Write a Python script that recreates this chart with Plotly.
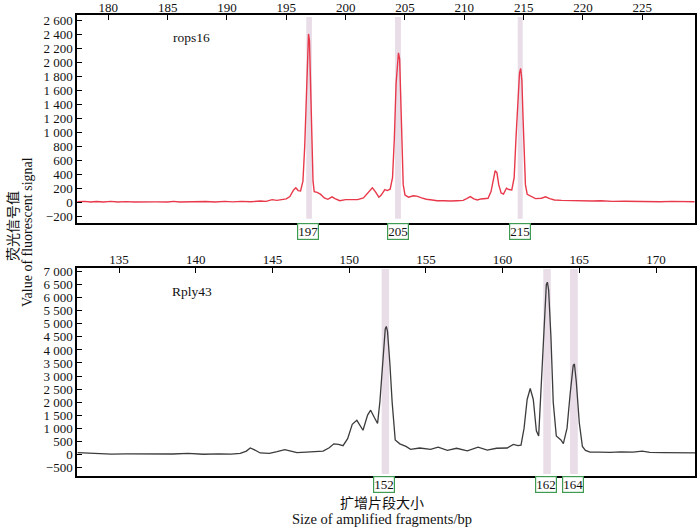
import plotly.graph_objects as go

# ---------------- data ----------------
rops_x = [177.4, 178.0, 178.5, 179.0, 179.6, 180.2, 180.8, 181.5, 182.2, 183.0, 184.0, 185.0, 185.5,
          186.0, 186.7, 187.5, 188.2, 189.0, 189.8, 190.5, 191.2, 192.0, 192.8, 193.3, 193.8, 194.2,
          194.6, 195.0, 195.3, 195.6, 195.8, 196.0, 196.2, 196.4, 196.55, 196.7, 196.8, 196.87,
          196.95, 197.05, 197.15, 197.25, 197.35, 197.6, 197.9, 198.2, 198.5, 198.85, 199.1, 199.5,
          200.0, 200.5, 201.0, 201.5, 201.9, 202.25, 202.5, 202.8, 203.0, 203.3, 203.5, 203.75,
          203.95, 204.1, 204.25, 204.37, 204.45, 204.55, 204.65, 204.75, 204.85, 205.0, 205.3,
          205.7, 206.0, 206.4, 206.8, 207.3, 207.7, 208.3, 208.8, 209.4, 209.9, 210.2, 210.5,
          210.8, 211.1, 211.4, 211.7, 212.0, 212.25, 212.45, 212.6, 212.75, 212.9, 213.1, 213.3,
          213.55, 213.75, 214.0, 214.2, 214.35, 214.5, 214.65, 214.75, 214.85, 214.95, 215.05,
          215.15, 215.3, 215.6, 216.0, 216.5, 216.85, 217.2, 217.6, 218.2, 219.0, 220.0, 220.8,
          221.5, 222.5, 223.5, 224.5, 225.5, 226.5, 227.5, 228.5, 229.4]
rops_y = [5, 10, 0, 8, 2, 10, 0, 6, 0, 5, 3, 2, 10,
          0, 5, 0, 8, 2, 10, 3, 10, 5, 15, 10, 35, 25,
          40, 45, 80, 170, 205, 165, 160, 300, 800, 1700, 2300, 2410,
          2320, 1750, 900, 300, 150, 140, 110, 60, 40, 75, 50, 20,
          35, 40, 35, 60, 140, 205, 150, 70, 100, 180, 165, 185,
          350, 900, 1700, 2080, 2140, 2050, 1500, 800, 250, 100, 70,
          90, 85, 60, 40, 30, 20, 20, 15, 20, 25, 50, 78,
          45, 30, 45, 50, 55, 150, 350, 450, 420, 250, 130, 115,
          200, 180, 175, 350, 900, 1500, 1850, 1915, 1750, 1200, 600,
          250, 110, 80, 50, 55, 75, 50, 30, 25, 20, 22, 15,
          20, 10, 12, 8, 10, 5, 10, 5, 5]

rply_x = [132.3, 132.8, 133.3, 133.8, 134.5, 135.5, 136.5, 137.5, 138.5, 139.5, 140.5, 141.5, 142.3,
          142.9, 143.3, 143.55, 143.8, 144.2, 144.8, 145.3, 145.8, 146.2, 146.6, 147.2, 147.8,
          148.3, 148.7, 149.0, 149.3, 149.6, 149.9, 150.2, 150.5, 150.9, 151.2, 151.4, 151.65,
          151.85, 152.0, 152.2, 152.35, 152.42, 152.5, 152.65, 152.8, 153.0, 153.3, 153.7, 154.0,
          154.6, 155.3, 155.8, 156.4, 157.0, 157.7, 158.4, 159.0, 159.6, 160.3, 160.7, 161.0,
          161.2, 161.4, 161.6, 161.8, 162.0, 162.2, 162.35, 162.5, 162.7, 162.85, 162.92, 163.0,
          163.15, 163.3, 163.5, 163.8, 163.96, 164.2, 164.4, 164.6, 164.68, 164.8, 165.0, 165.2,
          165.4, 165.7, 166.3, 167.0, 167.7, 168.5, 169.1, 169.6, 170.5, 171.5, 172.6]
rply_y = [60, 50, 40, 10, 5, 15, 5, 0, 10, 30, 0, 15, 5,
          30, 120, 240, 180, 50, 30, 100, 180, 120, 60, 80, 100,
          120, 250, 400, 380, 330, 600, 1150, 1300, 920, 1500, 1690, 1400,
          1180, 2000, 3800, 4800, 4900, 4700, 3500, 2000, 550, 400, 300, 190,
          240, 190, 270, 150, 230, 130, 270, 160, 230, 240, 380, 330,
          350, 1000, 2100, 2520, 2100, 900, 700, 2500, 5200, 6500, 6600, 6300,
          4500, 2000, 700, 550, 410, 1000, 2300, 3400, 3460, 2800, 1200, 300,
          150, 80, 80, 70, 90, 80, 120, 70, 60, 50, 50]

rops_bands = [(196.68, 197.16), (204.16, 204.66), (214.5, 214.92)]
rops_labels = ["197", "205", "215"]
rops_label_x = [196.85, 204.4, 214.7]

rply_bands = [(152.12, 152.6), (162.65, 163.14), (164.4, 164.9)]
rply_labels = ["152", "162", "164"]
rply_label_x = [152.3, 162.8, 164.6]

W, H = 700, 528
FONT = "Liberation Serif, Times New Roman, serif"
CJK = "Noto Sans CJK SC"
FS = 13

fig = go.Figure()
fig.add_trace(go.Scatter(x=rops_x, y=rops_y, mode="lines",
                         line=dict(color="#e8394b", width=1.4), xaxis="x", yaxis="y",
                         showlegend=False, hoverinfo="skip"))
fig.add_trace(go.Scatter(x=rply_x, y=rply_y, mode="lines",
                         line=dict(color="#3c3c3c", width=1.3), xaxis="x2", yaxis="y2",
                         showlegend=False, hoverinfo="skip"))

x_dom = [77 / W, 695 / W]
top_dom = [1 - 223 / H, 1 - 15 / H]
bot_dom = [1 - 476 / H, 1 - 268 / H]

axis_common = dict(showgrid=False, zeroline=False, showline=True, linecolor="black",
                   linewidth=1.5, mirror=True, ticks="inside", ticklen=5, tickwidth=1.2,
                   tickcolor="black", tickfont=dict(family=FONT, size=FS, color="#111"),
                   automargin=False)

fig.update_layout(
    width=W, height=H, margin=dict(l=0, r=0, t=0, b=0),
    paper_bgcolor="white", plot_bgcolor="white", separators=". ",
    xaxis=dict(axis_common, domain=x_dom, anchor="y", side="top", range=[177.36, 229.44],
               tick0=180, dtick=5, ticklabelstandoff=-4),
    yaxis=dict(axis_common, domain=top_dom, anchor="x", range=[-300, 2682],
               tick0=0, dtick=200, tickformat=",d"),
    xaxis2=dict(axis_common, domain=x_dom, anchor="y2", side="top", range=[132.26, 172.54],
                tick0=135, dtick=5, ticklabelstandoff=-3),
    yaxis2=dict(axis_common, domain=bot_dom, anchor="x2", range=[-834, 7142],
                tick0=0, dtick=500, tickformat=",d"),
)

shapes = []
for (a, b) in rops_bands:
    shapes.append(dict(type="rect", xref="x", yref="y domain", x0=a, x1=b, y0=0.02, y1=0.99,
                       fillcolor="#e9dde8", line=dict(width=0), layer="below"))
for (a, b) in rply_bands:
    shapes.append(dict(type="rect", xref="x2", yref="y2 domain", x0=a, x1=b, y0=0.01, y1=0.995,
                       fillcolor="#e9dde8", line=dict(width=0), layer="below"))
fig.update_layout(shapes=shapes)

ann = []
for lab, x in zip(rops_labels, rops_label_x):
    ann.append(dict(text=lab, x=x, y=0, xref="x", yref="y domain", yanchor="top",
                    xanchor="center", yshift=0,
                    showarrow=False, font=dict(family=FONT, size=FS, color="#111"),
                    bordercolor="#3f9a52", borderwidth=1.2, borderpad=0, bgcolor="white"))
for lab, x in zip(rply_labels, rply_label_x):
    ann.append(dict(text=lab, x=x, y=0, xref="x2", yref="y2 domain", yanchor="top",
                    xanchor="center", yshift=0,
                    showarrow=False, font=dict(family=FONT, size=FS, color="#111"),
                    bordercolor="#3f9a52", borderwidth=1.2, borderpad=0, bgcolor="white"))

ann.append(dict(text="rops16", x=187.0, y=2355, xref="x", yref="y", showarrow=False,
                xanchor="center", yanchor="middle",
                font=dict(family=FONT, size=13.5, color="#111")))
ann.append(dict(text="Rply43", x=139.74, y=6233, xref="x2", yref="y2", showarrow=False,
                xanchor="center", yanchor="middle",
                font=dict(family=FONT, size=13.5, color="#111")))

# axis titles
ann.append(dict(text="荧光信号值", x=12 / W, y=1 - 226 / H, xref="paper", yref="paper",
                xanchor="center", yanchor="middle",
                textangle=-90, showarrow=False, font=dict(family=CJK, size=14, color="#111")))
ann.append(dict(text="Value of fluorescent signal", x=27 / W, y=1 - 232 / H, xref="paper",
                yref="paper", textangle=-90, showarrow=False, xanchor="center", yanchor="middle",
                font=dict(family=FONT, size=14, color="#111")))
ann.append(dict(text="扩增片段大小", x=382 / W, y=1 - 502 / H, xref="paper", yref="paper",
                xanchor="center", yanchor="middle",
                showarrow=False, font=dict(family=CJK, size=14, color="#111")))
ann.append(dict(text="Size of amplified fragments/bp", x=382 / W, y=1 - 519 / H, xref="paper",
                yref="paper", xanchor="center", yanchor="middle",
                showarrow=False, font=dict(family=FONT, size=14.5, color="#111")))
fig.update_layout(annotations=ann)

fig.write_html("out.html", config={"displayModeBar": False},
               post_script="document.body.style.margin='0px';document.body.style.overflow='hidden';")
